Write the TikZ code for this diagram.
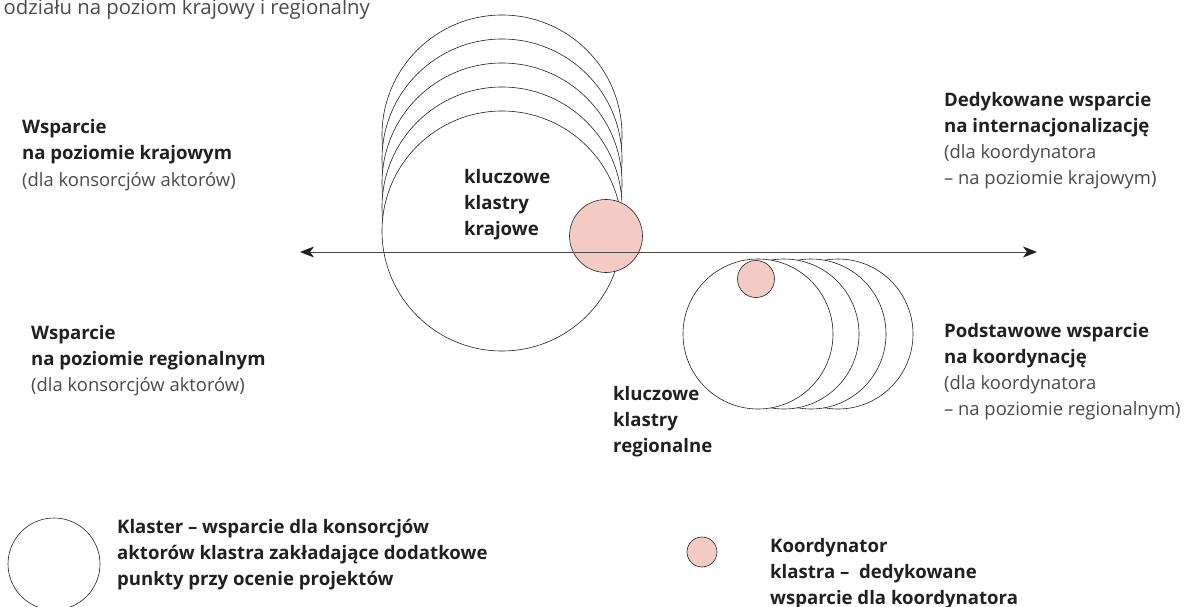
\documentclass[tikz,border=0pt]{standalone}
\usepackage{fontspec}
\setmainfont{Open Sans}
\usetikzlibrary{arrows.meta}
\definecolor{ink}{HTML}{231F20}
\definecolor{lite}{HTML}{4A4A4A}
\definecolor{rose}{RGB}{244,202,197}
\definecolor{axis}{HTML}{4A4A4A}
\tikzset{
  bt/.style={font=\bfseries\fontsize{18.6}{26}\selectfont, text=ink, inner sep=0pt, anchor=base west},
  lt/.style={font=\fontsize{18.4}{26}\selectfont, text=lite, inner sep=0pt, anchor=base west},
  clus/.style={circle, draw=ink, line width=0.6pt, fill=white, inner sep=0pt},
  coord/.style={circle, draw=ink, line width=0.6pt, fill=rose, inner sep=0pt},
}
\begin{document}
\begin{tikzpicture}[x=1pt,y=-1pt]
\useasboundingbox (0,0) rectangle (1184,607);
% top cut text
\node[lt, font=\fontsize{20.3}{26}\selectfont, anchor=base east] (head) at (370,15) {odziału na poziom krajowy i regionalny};
% national cluster stack
\node[clus, minimum size=240pt] (n1) at (502,135) {};
\node[clus, minimum size=240pt] (n2) at (502,159) {};
\node[clus, minimum size=240pt] (n3) at (502,183) {};
\node[clus, minimum size=240pt] (n4) at (502,207) {};
\node[clus, minimum size=240pt] (n5) at (502,231) {};
\node[coord, minimum size=73pt] (cn) at (606,236) {};
% regional cluster stack
\node[clus, minimum size=150pt] (r4) at (838,334) {};
\node[clus, minimum size=150pt] (r3) at (811,334) {};
\node[clus, minimum size=150pt] (r2) at (784,334) {};
\node[clus, minimum size=150pt] (r1) at (758,334) {};
\node[coord, minimum size=37pt] (cr) at (756,279) {};
% axis
\coordinate (axL) at (300,252);
\coordinate (axR) at (1037,252);
\draw[axis, line width=1pt, {Stealth[length=14pt,width=11pt,inset=4pt,color=ink]}-{Stealth[length=14pt,width=11pt,inset=4pt,color=ink]}] (axL) -- (axR);
% left top
\node[bt] (a1) at (22,134) {Wsparcie};
\node[bt] (a2) at (22,160) {na poziomie krajowym};
\node[lt] (a3) at (22,186) {(dla konsorcjów aktorów)};
% right top
\node[bt] (b1) at (944,107) {Dedykowane wsparcie};
\node[bt] (b2) at (944,133) {na internacjonalizację};
\node[lt] (b3) at (944,159) {(dla koordynatora};
\node[lt] (b4) at (944,185) {– na poziomie krajowym)};
% left bottom
\node[bt] (c1) at (31,339) {Wsparcie};
\node[bt] (c2) at (31,365) {na poziomie regionalnym};
\node[lt] (c3) at (31,391) {(dla konsorcjów aktorów)};
% right bottom
\node[bt] (d1) at (944,337) {Podstawowe wsparcie};
\node[bt] (d2) at (944,363) {na koordynację};
\node[lt] (d3) at (944,389) {(dla koordynatora};
\node[lt] (d4) at (944,415) {– na poziomie regionalnym)};
% cluster labels
\node[bt] (k1) at (464,183) {kluczowe};
\node[bt] (k2) at (464,209) {klastry};
\node[bt] (k3) at (464,235) {krajowe};
\node[bt] (g1) at (613,400) {kluczowe};
\node[bt] (g2) at (613,426) {klastry};
\node[bt] (g3) at (613,452) {regionalne};
% legend
\node[clus, minimum size=92pt] (lg1) at (54,564) {};
\node[bt] (l1) at (117,533) {Klaster – wsparcie dla konsorcjów};
\node[bt] (l2) at (117,559) {aktorów klastra zakładające dodatkowe};
\node[bt] (l3) at (117,585) {punkty przy ocenie projektów};
\node[coord, minimum size=30pt] (lg2) at (702,552) {};
\node[bt] (m1) at (770,552) {Koordynator};
\node[bt] (m2) at (770,578) {klastra –\ \ dedykowane};
\node[bt] (m3) at (770,604) {wsparcie dla koordynatora};
\end{tikzpicture}
\end{document}
